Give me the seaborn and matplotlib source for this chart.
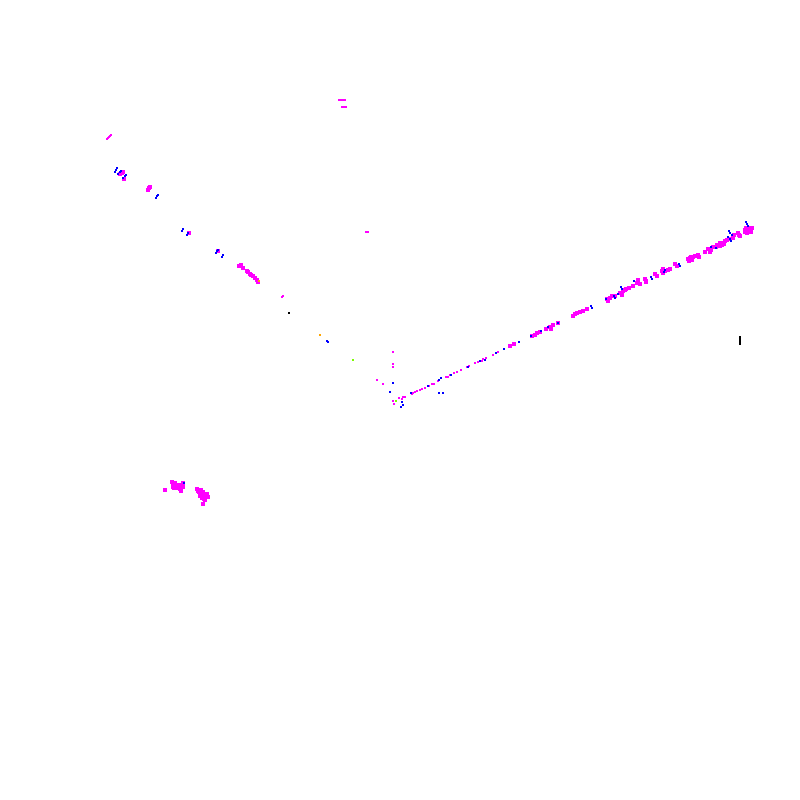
import matplotlib
matplotlib.use("Agg")
import matplotlib.pyplot as plt
import pandas as pd
import seaborn as sns

# values
magenta_far_x = [645, 646, 655, 657, 662, 663, 668, 670, 675, 677, 688, 690, 693, 695, 698, 699, 705, 708, 710, 711,
                 713, 715, 717, 719, 720, 722, 723, 725, 727, 729, 733, 734, 738, 739, 740, 745, 747, 748, 750, 752,
                 510, 514, 532, 535, 537, 540, 546, 550, 551, 553, 558, 573, 575, 577, 580, 583, 587,
                 607, 610, 615, 620, 623, 626, 629, 633, 637, 638, 640, 645, 646,
                 165, 172, 173, 173, 175, 176, 178, 180, 183, 183, 197, 198, 200, 201, 203, 204, 205, 208, 202, 205, 203,
                 120, 122, 123, 124, 148, 149, 150, 189,
                 218, 239, 241, 243, 247, 248, 250, 251, 253, 255, 257, 258,
                 # thicker parts of the clusters
                 745, 747, 749, 751, 746, 749, 689, 691, 692, 718, 720, 716, 722, 724, 663, 665,
                 199, 201, 203, 205, 207, 200, 202, 204, 174, 176, 178, 181, 179, 608, 612, 622, 625]
magenta_far_y = [279, 281, 274, 276, 271, 273, 270, 269, 264, 266, 259, 258, 257, 256, 255, 257, 252, 249, 252, 250,
                 247, 247, 245, 246, 243, 244, 243, 241, 240, 239, 238, 235, 233, 235, 236, 232, 231, 230, 229, 228,
                 346, 344, 336, 335, 333, 332, 329, 327, 329, 325, 323, 316, 314, 313, 312, 311, 309,
                 299, 298, 296, 293, 291, 289, 288, 286, 283, 280, 284, 279, 282,
                 490, 482, 484, 487, 483, 485, 488, 489, 487, 483, 489, 491, 493, 490, 492, 495, 495, 497, 498, 500, 504,
                 174, 173, 172, 179, 190, 188, 187, 233,
                 251, 266, 265, 268, 271, 272, 274, 275, 276, 278, 280, 282,
                 230, 233, 228, 232, 228, 231, 261, 257, 260, 246, 246, 247, 245, 244, 269, 271,
                 492, 490, 495, 497, 494, 496, 494, 499, 488, 488, 486, 491, 485, 301, 296, 295, 290]

magenta_near_x = [377, 383, 393, 393, 393, 399, 402, 403, 405, 393, 394, 402,
                  412, 413, 415, 417, 420, 422, 425, 429, 432, 434, 438, 446, 448, 450, 454, 457, 461, 467, 469,
                  475, 478, 482, 483, 486, 493, 496, 498, 282, 283, 366, 367, 368,
                  107, 108, 109, 110, 111, 339, 340, 341, 342, 343, 344, 345, 342, 343, 344, 345, 346]
magenta_near_y = [380, 384, 352, 364, 367, 398, 399, 397, 397, 401, 404, 402,
                  394, 393, 392, 391, 390, 389, 388, 386, 384, 384, 381, 377, 377, 375, 373, 372, 370, 367, 366,
                  363, 362, 361, 359, 358, 355, 353, 352, 297, 296, 232, 232, 232,
                  139, 138, 137, 136, 135, 100, 100, 100, 100, 100, 100, 100, 107, 107, 107, 107, 107]

blue_far_x = [651, 652, 665, 664, 679, 680, 711, 716, 729, 730, 732, 728, 730, 731, 746, 747, 748,
              504, 519, 531, 541, 548, 558, 591, 592, 606, 614, 615, 618, 621, 622, 634, 184,
              115, 116, 117, 118, 120, 121, 123, 125, 126, 156, 157, 158, 182, 183, 187, 188,
              216, 217, 218, 222, 223]
blue_far_y = [277, 279, 270, 272, 264, 266, 247, 248, 231, 233, 235, 237, 239, 241, 222, 224, 226,
              349, 342, 336, 331, 327, 323, 306, 308, 299, 296, 298, 294, 287, 289, 281, 483,
              172, 170, 168, 174, 172, 171, 178, 176, 175, 198, 196, 195, 231, 229, 235, 233,
              253, 251, 250, 257, 255]

blue_near_x = [393, 390, 411, 428, 439, 441, 451, 468, 480, 485, 496, 439, 443, 402, 403, 401, 289, 327, 328]
blue_near_y = [383, 392, 393, 386, 380, 378, 375, 367, 361, 360, 353, 393, 393, 402, 405, 407, 313, 341, 342]

orange_x = [259, 320]
orange_y = [281, 335]
lime_x = [353, 396]
lime_y = [360, 401]
black_x = [740, 740, 740, 740, 740, 289]
black_y = [337, 339, 341, 343, 344, 313]


def frame(x, y, name):
    return pd.DataFrame({"x": x, "y": y, "series": name})


sns.set_theme(style="white")
fig = plt.figure(figsize=(8, 8), dpi=100)
ax = fig.add_axes([0, 0, 1, 1])

colors = {"magenta": "#ff00ff", "blue": "#0000ff", "orange": "#ffa500", "lime": "#7cfc00", "black": "#000000"}

extra = pd.concat([frame(orange_x, orange_y, "orange"), frame(lime_x, lime_y, "lime"), frame(black_x, black_y, "black")])

sns.scatterplot(data=frame(magenta_far_x, magenta_far_y, "magenta"), x="x", y="y", hue="series", palette=colors,
                marker="s", s=7, linewidth=0, legend=False, ax=ax)
sns.scatterplot(data=frame(blue_far_x, blue_far_y, "blue"), x="x", y="y", hue="series", palette=colors,
                marker="s", s=4, linewidth=0, legend=False, ax=ax)
sns.scatterplot(data=frame(magenta_near_x, magenta_near_y, "magenta"), x="x", y="y", hue="series", palette=colors,
                marker="s", s=2, linewidth=0, legend=False, ax=ax)
sns.scatterplot(data=frame(blue_near_x, blue_near_y, "blue"), x="x", y="y", hue="series", palette=colors,
                marker="s", s=1.2, linewidth=0, legend=False, ax=ax)
sns.scatterplot(data=extra, x="x", y="y", hue="series", palette=colors, marker="s", s=1.5, linewidth=0, legend=False, ax=ax)

ax.set_xlim(0, 800)
ax.set_ylim(800, 0)
ax.axis("off")

fig.savefig("out.png", dpi=100)
plt.close("all")
